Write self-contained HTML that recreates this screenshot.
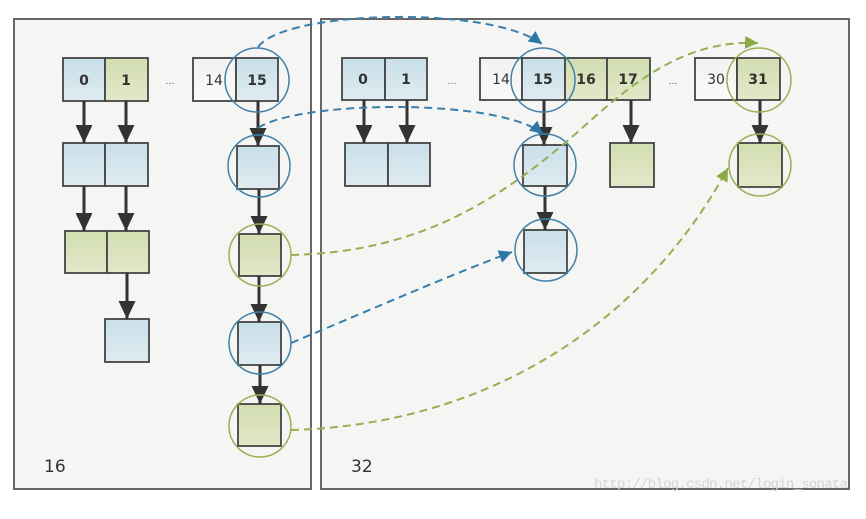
<!DOCTYPE html>
<html><head><meta charset="utf-8"><style>
body{margin:0;background:#fff;}
svg{display:block;font-family:"DejaVu Sans","Liberation Sans",sans-serif;}
</style></head><body>
<svg width="866" height="519" viewBox="0 0 866 519" xmlns="http://www.w3.org/2000/svg">
<defs>
<linearGradient id="bl" x1="0" y1="0" x2="0" y2="1"><stop offset="0" stop-color="#c9dfe9"/><stop offset="1" stop-color="#dfebf1"/></linearGradient>
<linearGradient id="gr" x1="0" y1="0" x2="0" y2="1"><stop offset="0" stop-color="#d2ddb0"/><stop offset="1" stop-color="#e2e8c9"/></linearGradient>
<linearGradient id="wh" x1="0" y1="0" x2="0" y2="1"><stop offset="0" stop-color="#f2f2f0"/><stop offset="1" stop-color="#fafaf8"/></linearGradient>
<marker id="ah" markerWidth="18" markerHeight="17" refX="18" refY="8.5" orient="auto" markerUnits="userSpaceOnUse" viewBox="0 0 18 17"><path d="M0,0 L18,8.5 L0,17 Z" fill="#333"/></marker>
<marker id="ab" markerWidth="13" markerHeight="13" refX="10" refY="5" orient="auto" markerUnits="userSpaceOnUse" viewBox="0 0 10 10"><path d="M0,0 L10,5 L0,10 Z" fill="#2e77a4"/></marker>
<marker id="ag" markerWidth="13" markerHeight="13" refX="10" refY="5" orient="auto" markerUnits="userSpaceOnUse" viewBox="0 0 10 10"><path d="M0,0 L10,5 L0,10 Z" fill="#8aab45"/></marker>
</defs>
<rect x="14" y="19" width="297" height="470" fill="#f5f5f4" stroke="#666" stroke-width="2"/>
<rect x="321" y="19" width="528" height="470" fill="#f5f5f4" stroke="#666" stroke-width="2"/>

<g stroke="#444" stroke-width="1.8">
<rect x="63" y="58" width="42" height="43" fill="url(#bl)"/>
<rect x="105" y="58" width="43" height="43" fill="url(#gr)"/>
<rect x="193" y="58" width="43" height="43" fill="url(#wh)"/>
<rect x="236" y="58" width="42" height="43" fill="url(#bl)"/>
<rect x="63" y="143" width="42" height="43" fill="url(#bl)"/>
<rect x="105" y="143" width="43" height="43" fill="url(#bl)"/>
<rect x="237" y="146" width="42" height="43" fill="url(#bl)"/>
<rect x="65" y="231" width="42" height="42" fill="url(#gr)"/>
<rect x="107" y="231" width="42" height="42" fill="url(#gr)"/>
<rect x="239" y="234" width="42" height="42" fill="url(#gr)"/>
<rect x="105" y="319" width="44" height="43" fill="url(#bl)"/>
<rect x="238" y="322" width="43" height="43" fill="url(#bl)"/>
<rect x="238" y="404" width="43" height="42" fill="url(#gr)"/>
<rect x="342" y="58" width="43" height="42" fill="url(#bl)"/>
<rect x="385" y="58" width="42" height="42" fill="url(#bl)"/>
<rect x="345" y="143" width="43" height="43" fill="url(#bl)"/>
<rect x="388" y="143" width="42" height="43" fill="url(#bl)"/>
<rect x="480" y="58" width="42" height="42" fill="url(#wh)"/>
<rect x="522" y="58" width="43" height="42" fill="url(#bl)"/>
<rect x="565" y="58" width="42" height="42" fill="url(#gr)"/>
<rect x="607" y="58" width="43" height="42" fill="url(#gr)"/>
<rect x="695" y="58" width="42" height="42" fill="url(#wh)"/>
<rect x="737" y="58" width="43" height="42" fill="url(#gr)"/>
<rect x="523" y="145" width="44" height="41" fill="url(#bl)"/>
<rect x="610" y="143" width="44" height="44" fill="url(#gr)"/>
<rect x="738" y="143" width="44" height="44" fill="url(#gr)"/>
<rect x="524" y="230" width="43" height="43" fill="url(#bl)"/>
</g>

<g font-size="14" fill="#333" text-anchor="middle" font-weight="bold">
<text x="84" y="85">0</text><text x="126" y="85">1</text>
<text x="214" y="85" font-weight="normal">14</text><text x="257" y="85">15</text>
<text x="363" y="84">0</text><text x="406" y="84">1</text>
<text x="501" y="84" font-weight="normal">14</text><text x="543" y="84">15</text>
<text x="586" y="84">16</text><text x="628" y="84">17</text>
<text x="716" y="84" font-weight="normal">30</text><text x="758" y="84">31</text>
</g>
<g font-size="9" fill="#555" text-anchor="middle">
<text x="170" y="84">…</text><text x="452" y="84">…</text><text x="673" y="84">…</text>
</g>
<text x="44" y="472" font-size="17" fill="#333">16</text>
<text x="351" y="472" font-size="17" fill="#333">32</text>
<text x="594" y="488" font-size="14" fill="#d4d4d4" font-family="Liberation Mono,monospace" textLength="254">http://blog.csdn.net/login_sonata</text>

<g stroke="#333" stroke-width="3" marker-end="url(#ah)" fill="none">
<line x1="84" y1="101" x2="84" y2="143"/><line x1="126" y1="101" x2="126" y2="143"/>
<line x1="84" y1="186" x2="84" y2="231"/><line x1="126" y1="186" x2="126" y2="231"/>
<line x1="127" y1="273" x2="127" y2="319"/>
<line x1="258" y1="101" x2="258" y2="146"/>
<line x1="259" y1="189" x2="259" y2="234"/>
<line x1="259" y1="276" x2="259" y2="322"/>
<line x1="260" y1="365" x2="260" y2="404"/>
<line x1="364" y1="100" x2="364" y2="143"/><line x1="407" y1="100" x2="407" y2="143"/>
<line x1="544" y1="100" x2="544" y2="145"/>
<line x1="631" y1="100" x2="631" y2="143"/>
<line x1="760" y1="100" x2="760" y2="143"/>
<line x1="545" y1="186" x2="545" y2="230"/>
</g>

<g fill="none" stroke-width="1.5">
<circle cx="257" cy="80" r="32" stroke="#3f82a8"/>
<circle cx="259" cy="166" r="31" stroke="#3f82a8"/>
<circle cx="260" cy="255" r="31" stroke="#98b155"/>
<circle cx="260" cy="343" r="31" stroke="#3f82a8"/>
<circle cx="260" cy="426" r="31" stroke="#98b155"/>
<circle cx="543" cy="80" r="32" stroke="#3f82a8"/>
<circle cx="545" cy="165" r="31" stroke="#3f82a8"/>
<circle cx="546" cy="250" r="31" stroke="#3f82a8"/>
<circle cx="759" cy="80" r="32" stroke="#98b155"/>
<circle cx="760" cy="165" r="31" stroke="#98b155"/>
</g>

<g fill="none" stroke-width="2" stroke-dasharray="8,5">
<path d="M258,47 C285,10 490,5 542,44" stroke="#3a7fab" marker-end="url(#ab)"/>
<path d="M258,128 C300,100 500,98 543,134" stroke="#3a7fab" marker-end="url(#ab)"/>
<path d="M291,343 C370,310 450,275 512,252" stroke="#3a7fab" marker-end="url(#ab)"/>
<path d="M291,255 C420,252 500,200 580,130 C640,75 690,40 758,43" stroke="#94b052" marker-end="url(#ag)"/>
<path d="M291,430 C480,425 640,330 728,168" stroke="#94b052" marker-end="url(#ag)"/>
</g>
</svg>
</body></html>
